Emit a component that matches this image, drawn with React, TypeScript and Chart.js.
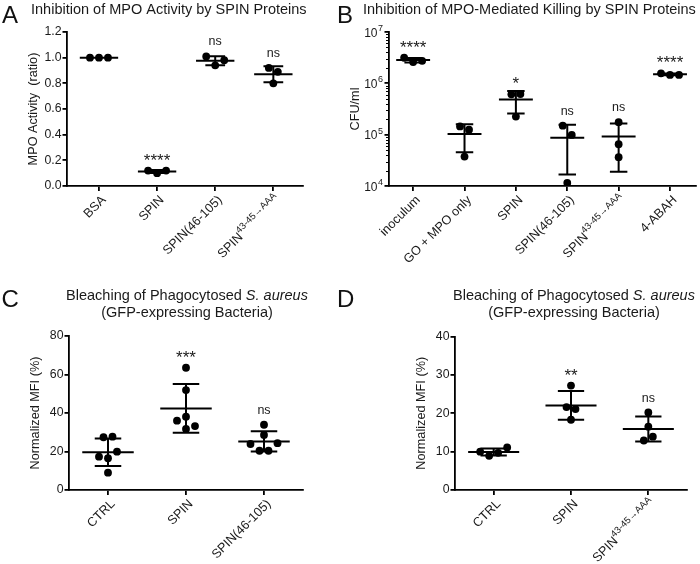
import React, { useEffect, useRef } from "react";
import { Chart, registerables } from "chart.js";

Chart.register(...registerables);

// ---------------- data ----------------
// Panel A – MPO activity (ratio)
const catsA = ["BSA", "SPIN", "SPIN(46-105)", "SPIN^43-45→AAA"];
const bsaA = [1.0, 1.0, 1.0];
const spinA = [0.10, 0.12, 0.12];
const spin46A = [0.94, 1.01, 0.98];
const spinAAA_A = [0.92, 0.89, 0.80];
const sigA = ["", "****", "ns", "ns"];
const ticksA = [0, 0.2, 0.4, 0.6, 0.8, 1.0, 1.2];

// Panel B – CFU/ml
const catsB = ["inoculum", "GO + MPO only", "SPIN", "SPIN(46-105)", "SPIN^43-45→AAA", "4-ABAH"];
const inoculumB = [2.6e6, 3.15e6, 2.75e6];
const goMpoB = [1.45e5, 1.25e5, 3.75e4];
const spinB = [6.1e5, 6.2e5, 2.25e5];
const spin46B = [1.5e5, 9.9e4, 1.15e4];
const spinAAA_B = [1.75e5, 6.5e4, 3.65e4];
const abahB = [1.46e6, 1.57e6, 1.46e6];
const sigB = ["****", "", "*", "ns", "ns", "****"];
const ticksB = [1e4, 1e5, 1e6, 1e7];

// Panel C – Normalized MFI (%)
const catsC = ["CTRL", "SPIN", "SPIN(46-105)"];
const ctrlC = [27.4, 27.7, 16.5, 17.3, 19.9, 9.0];
const spinC = [63.5, 51.9, 31.7, 36.0, 33.2, 38.1];
const spin46C = [33.9, 28.6, 20.4, 20.4, 23.9, 24.3];
const sigC = ["", "***", "ns"];
const ticksC = [0, 20, 40, 60, 80];

// Panel D – Normalized MFI (%)
const catsD = ["CTRL", "SPIN", "SPIN^43-45→AAA"];
const ctrlD = [8.9, 9.7, 10.0, 11.1];
const spinD = [27.2, 21.6, 21.1, 18.3];
const spinAAA_D = [20.2, 16.5, 12.9, 13.9];
const sigD = ["", "**", "ns"];
const ticksD = [0, 10, 20, 30, 40];

// ---------------- layout / style ----------------
const W = 700;
const H = 564;
const FONT = "'Liberation Sans', Arial, Helvetica, sans-serif";
const INK = "#1a1a1a";
const DOT_R = 3.9;
const SWARM_GAP = 9;
const ROW_H = 9.8;
const MEAN_HALF = 0.33;
const CAP_HALF = 0.17;
const LINE_W = 2;
const AXIS_W = 1.8;

type Area = { left: number; top: number; right: number; bottom: number };
type PanelSpec = {
  letter: string;
  letterAt: [number, number];
  title: string[];
  titleAt: [number, number];
  titleAlign: CanvasTextAlign;
  yTitle: string;
  cats: string[];
  groups: number[][];
  sig: string[];
  yTicks: number[];
  log: boolean;
  decimals: number;
  area: Area;
  xMin: number;
  xMax: number;
};

const panels: PanelSpec[] = [
  {
    letter: "A", letterAt: [2, 23],
    title: ["Inhibition of MPO Activity by SPIN Proteins"], titleAt: [31, 14], titleAlign: "left",
    yTitle: "MPO Activity  (ratio)",
    cats: catsA, groups: [bsaA, spinA, spin46A, spinAAA_A], sig: sigA,
    yTicks: ticksA, log: false, decimals: 1,
    area: { left: 67, top: 32, right: 302.4, bottom: 186 }, xMin: -0.55, xMax: 3.5,
  },
  {
    letter: "B", letterAt: [337, 23],
    title: ["Inhibition of MPO-Mediated Killing by SPIN Proteins"], titleAt: [363, 14], titleAlign: "left",
    yTitle: "CFU/ml",
    cats: catsB, groups: [inoculumB, goMpoB, spinB, spin46B, spinAAA_B, abahB], sig: sigB,
    yTicks: ticksB, log: true, decimals: 0,
    area: { left: 389, top: 32, right: 695.7, bottom: 186 }, xMin: -0.47, xMax: 5.5,
  },
  {
    letter: "C", letterAt: [1.5, 307],
    title: ["Bleaching of Phagocytosed _S. aureus_", "(GFP-expressing Bacteria)"], titleAt: [187, 300], titleAlign: "center",
    yTitle: "Normalized MFI (%)",
    cats: catsC, groups: [ctrlC, spinC, spin46C], sig: sigC,
    yTicks: ticksC, log: false, decimals: 0,
    area: { left: 69, top: 336, right: 303, bottom: 490 }, xMin: -0.5, xMax: 2.5,
  },
  {
    letter: "D", letterAt: [337, 307],
    title: ["Bleaching of Phagocytosed _S. aureus_", "(GFP-expressing Bacteria)"], titleAt: [574, 300], titleAlign: "center",
    yTitle: "Normalized MFI (%)",
    cats: catsD, groups: [ctrlD, spinD, spinAAA_D], sig: sigD,
    yTicks: ticksD, log: false, decimals: 0,
    area: { left: 455, top: 336.5, right: 687, bottom: 490 }, xMin: -0.5, xMax: 2.5,
  },
];

// ---------------- helpers ----------------
const mean = (a: number[]) => a.reduce((s, v) => s + v, 0) / a.length;
const sdev = (a: number[]) => {
  const m = mean(a);
  return a.length > 1 ? Math.sqrt(a.reduce((s, v) => s + (v - m) ** 2, 0) / (a.length - 1)) : 0;
};

// Prism-like scatter: bin points into rows (bottom first), spread each row centred
function swarmOffsets(vals: number[], yPix: (v: number) => number): number[] {
  const order = vals.map((_, i) => i).sort((a, b) => yPix(vals[b]) - yPix(vals[a]));
  const offs = new Array(vals.length).fill(0);
  let row: number[] = [];
  let start = 0;
  const flush = () => {
    const members = [...row].sort((a, b) => a - b);
    const n = members.length;
    const slots: number[] = [];
    for (let k = 0; k < n; k++) slots.push((k - (n - 1) / 2) * SWARM_GAP);
    slots.sort((a, b) => Math.abs(a) - Math.abs(b) || a - b);
    members.forEach((i, k) => (offs[i] = slots[k]));
  };
  for (const i of order) {
    const p = yPix(vals[i]);
    if (row.length && start - p < ROW_H) row.push(i);
    else {
      if (row.length) flush();
      row = [i];
      start = p;
    }
  }
  if (row.length) flush();
  return offs;
}

function makePlugin(p: PanelSpec) {
  return {
    id: "panelDecor" + p.letter,
    beforeDatasetsDraw(chart: any) {
      const ctx: CanvasRenderingContext2D = chart.ctx;
      const xs = chart.scales.x;
      const ys = chart.scales.y;
      const unit = Math.abs(xs.getPixelForValue(1) - xs.getPixelForValue(0));
      ctx.save();
      ctx.strokeStyle = "#000";
      ctx.lineWidth = LINE_W;
      p.groups.forEach((vals, g) => {
        const m = mean(vals);
        const s = sdev(vals);
        const cx = xs.getPixelForValue(g);
        const ym = ys.getPixelForValue(m);
        ctx.beginPath();
        ctx.moveTo(cx - MEAN_HALF * unit, ym);
        ctx.lineTo(cx + MEAN_HALF * unit, ym);
        if (s > 0) {
          const yHi = ys.getPixelForValue(m + s);
          const yLo = ys.getPixelForValue(m - s);
          ctx.moveTo(cx, yHi);
          ctx.lineTo(cx, yLo);
          ctx.moveTo(cx - CAP_HALF * unit, yHi);
          ctx.lineTo(cx + CAP_HALF * unit, yHi);
          ctx.moveTo(cx - CAP_HALF * unit, yLo);
          ctx.lineTo(cx + CAP_HALF * unit, yLo);
        }
        ctx.stroke();
      });
      ctx.restore();
    },
    afterDatasetsDraw(chart: any) {
      const ctx: CanvasRenderingContext2D = chart.ctx;
      const xs = chart.scales.x;
      const ys = chart.scales.y;
      ctx.save();
      ctx.fillStyle = INK;
      ctx.textAlign = "center";
      ctx.textBaseline = "alphabetic";
      p.groups.forEach((vals, g) => {
        const label = p.sig[g];
        if (!label) return;
        const m = mean(vals);
        const s = sdev(vals);
        const top = Math.min(ys.getPixelForValue(Math.max(...vals)) - DOT_R, ys.getPixelForValue(m + s));
        const star = label.indexOf("*") >= 0;
        ctx.font = `${star ? 17 : 12.5}px ${FONT}`;
        const mt = ctx.measureText(label);
        const desc = mt.actualBoundingBoxDescent || 0;
        ctx.fillText(label, xs.getPixelForValue(g), top - 7 - desc);
      });
      ctx.restore();
    },
    afterDraw(chart: any) {
      const ctx: CanvasRenderingContext2D = chart.ctx;
      const ys = chart.scales.y;
      const xs = chart.scales.x;
      const ca = chart.chartArea;
      ctx.save();
      ctx.fillStyle = INK;

      // rotated category labels (with superscripts)
      p.cats.forEach((c, i) => {
        const [base, sup] = c.split("^");
        const cx = xs.getPixelForValue(i);
        ctx.save();
        ctx.translate(cx + 5, ca.bottom + 12);
        ctx.rotate(-Math.PI / 4);
        ctx.textBaseline = "middle";
        ctx.textAlign = "left";
        ctx.font = `12.7px ${FONT}`;
        const wb = ctx.measureText(base).width;
        let ws = 0;
        if (sup) {
          ctx.font = `9.5px ${FONT}`;
          ws = ctx.measureText(sup).width;
        }
        ctx.font = `12.7px ${FONT}`;
        ctx.fillText(base, -(wb + ws), 0);
        if (sup) {
          ctx.font = `9.5px ${FONT}`;
          ctx.fillText(sup, -ws, -5);
        }
        ctx.restore();
      });

      // y title
      ctx.save();
      ctx.translate(ca.left - 34, (ca.top + ca.bottom) / 2);
      ctx.rotate(-Math.PI / 2);
      ctx.textAlign = "center";
      ctx.textBaseline = "middle";
      ctx.font = `12.7px ${FONT}`;
      ctx.fillText(p.yTitle, 0, 0);
      ctx.restore();

      // log axis: power-of-ten labels and minor ticks
      if (p.log) {
        p.yTicks.forEach((v) => {
          const y = ys.getPixelForValue(v);
          const e = String(Math.round(Math.log10(v)));
          ctx.textAlign = "right";
          ctx.textBaseline = "middle";
          ctx.font = `9px ${FONT}`;
          const we = ctx.measureText(e).width;
          const xr = ca.left - 6;
          ctx.fillText(e, xr, y - 3.5);
          ctx.font = `12px ${FONT}`;
          ctx.fillText("10", xr - we - 0.5, y + 1.5);
        });
        ctx.strokeStyle = "#000";
        ctx.lineWidth = 1;
        ctx.beginPath();
        const e0 = Math.round(Math.log10(p.yTicks[0]));
        const e1 = Math.round(Math.log10(p.yTicks[p.yTicks.length - 1]));
        for (let e = e0; e < e1; e++) {
          for (let k = 2; k <= 9; k++) {
            const y = Math.round(ys.getPixelForValue(k * Math.pow(10, e))) + 0.5;
            ctx.moveTo(ca.left - 3, y);
            ctx.lineTo(ca.left, y);
          }
        }
        ctx.stroke();
      }

      // panel title (supports _italic_ segments)
      ctx.textBaseline = "alphabetic";
      ctx.textAlign = "left";
      p.title.forEach((line, li) => {
        const segs = line
          .split("_")
          .map((t, k) => ({ t, it: k % 2 === 1 }))
          .filter((s) => s.t.length > 0);
        const fontOf = (it: boolean) => `${it ? "italic " : ""}14.5px ${FONT}`;
        const widths = segs.map((s) => {
          ctx.font = fontOf(s.it);
          return ctx.measureText(s.t).width;
        });
        const total = widths.reduce((a, b) => a + b, 0);
        let x = p.titleAlign === "center" ? p.titleAt[0] - total / 2 : p.titleAt[0];
        const y = p.titleAt[1] + li * 16.5;
        segs.forEach((s, k) => {
          ctx.font = fontOf(s.it);
          ctx.fillText(s.t, x, y);
          x += widths[k];
        });
      });

      // panel letter
      ctx.font = `24px ${FONT}`;
      ctx.fillStyle = "#111";
      ctx.fillText(p.letter, p.letterAt[0], p.letterAt[1]);
      ctx.restore();
    },
  };
}

function buildConfig(p: PanelSpec): any {
  const gridOpts = (len: number) => ({
    display: true,
    drawOnChartArea: false,
    drawTicks: true,
    tickLength: len,
    color: "#000",
    lineWidth: AXIS_W,
  });
  const border = { display: true, color: "#000", width: AXIS_W };
  return {
    type: "scatter",
    data: {
      datasets: p.groups.map((vals, g) => ({
        data: vals.map((v) => ({ x: g, y: v })),
        pointRadius: DOT_R,
        pointHoverRadius: DOT_R,
        pointBorderWidth: 0,
        backgroundColor: "#000",
        borderColor: "#000",
        showLine: false,
      })),
    },
    options: {
      responsive: false,
      animation: false,
      devicePixelRatio: 1,
      events: [],
      layout: {
        padding: {
          left: p.area.left - 40,
          right: W - p.area.right,
          top: p.area.top,
          bottom: H - p.area.bottom - 20,
        },
      },
      plugins: {
        legend: { display: false },
        tooltip: { enabled: false },
        title: { display: false },
      },
      scales: {
        x: {
          type: "linear",
          min: p.xMin,
          max: p.xMax,
          afterBuildTicks: (s: any) => {
            s.ticks = p.cats.map((_, i) => ({ value: i }));
          },
          afterFit: (s: any) => {
            s.height = 20;
          },
          ticks: { autoSkip: false, maxRotation: 0, callback: () => "" },
          grid: gridOpts(5),
          border,
        },
        y: {
          type: p.log ? "logarithmic" : "linear",
          min: p.yTicks[0],
          max: p.yTicks[p.yTicks.length - 1],
          afterBuildTicks: (s: any) => {
            s.ticks = p.yTicks.map((v) => ({ value: v, major: true }));
          },
          afterFit: (s: any) => {
            s.width = 40;
          },
          ticks: {
            autoSkip: false,
            padding: 1,
            color: INK,
            font: { size: 12.3, family: FONT },
            callback: (v: any) => (p.log ? "" : Number(v).toFixed(p.decimals)),
          },
          grid: gridOpts(4.5),
          border,
        },
      },
    },
    plugins: [makePlugin(p)],
  };
}

export default function App() {
  const r0 = useRef<HTMLCanvasElement | null>(null);
  const r1 = useRef<HTMLCanvasElement | null>(null);
  const r2 = useRef<HTMLCanvasElement | null>(null);
  const r3 = useRef<HTMLCanvasElement | null>(null);
  const refs = [r0, r1, r2, r3];

  useEffect(() => {
    Chart.defaults.font.family = FONT;
    const charts = panels.map((p, k) => {
      const canvas = refs[k].current as HTMLCanvasElement;
      const chart = new Chart(canvas, buildConfig(p));
      const xs: any = chart.scales.x;
      const ys: any = chart.scales.y;
      const unit = Math.abs(xs.getPixelForValue(1) - xs.getPixelForValue(0));
      chart.data.datasets.forEach((ds: any, g: number) => {
        const offs = swarmOffsets(p.groups[g], (v) => ys.getPixelForValue(v));
        ds.data = p.groups[g].map((v, i) => ({ x: g + offs[i] / unit, y: v }));
      });
      chart.update("none");
      return chart;
    });
    return () => charts.forEach((c) => c.destroy());
  }, []);

  return (
    <div style={{ position: "fixed", left: 0, top: 0, width: W, height: H, background: "#fff" }}>
      {refs.map((r, k) => (
        <canvas
          key={k}
          ref={r}
          width={W}
          height={H}
          style={{ position: "absolute", left: 0, top: 0, width: W, height: H }}
        />
      ))}
    </div>
  );
}
